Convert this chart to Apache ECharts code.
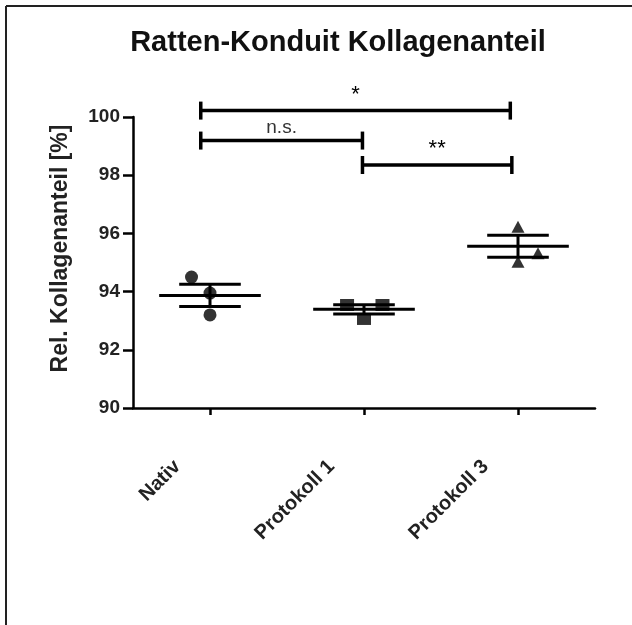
<!DOCTYPE html>
<html>
<head>
<meta charset="utf-8">
<script src="https://cdn.jsdelivr.net/npm/echarts@6/dist/echarts.min.js"></script>
<style>
html,body{margin:0;padding:0;background:#fff;}
#chart{width:632px;height:625px;}
</style>
</head>
<body>
<div id="chart"></div>
<script>
// ---- data ----
const categories = ['Nativ', 'Protokoll 1', 'Protokoll 3'];
const yTicks = [90, 92, 94, 96, 98, 100];
const nativValues = [94.5, 93.95, 93.2];
const nativJitter = [-0.12, 0, 0];
const p1Values = [93.54, 93.54, 93.06];
const p1Jitter = [-0.11, 0.12, 0];
const p3Values = [96.23, 95.03, 95.32];
const p3Jitter = [0, 0, 0.13];
const meanValues = [93.87, 93.39, 95.56];
const semValues = [0.385, 0.16, 0.38];
const bracketFrom = [0.94, 0.94, 1.99];
const bracketTo = [1.99, 2.95, 2.96];
const bracketY = [99.19, 100.22, 98.35];
const bracketText = ['n.s.', '*', '**'];

function pts(idx, vals, jit) {
  return vals.map((v, i) => [idx + 1 + jit[i], v]);
}

const chart = echarts.init(document.getElementById('chart'));
const FONT = '"Liberation Sans", Arial, sans-serif';

const meanData = categories.map((c, i) => [i + 1, meanValues[i], semValues[i]]);
const bracketData = bracketText.map((t, i) => [bracketFrom[i], bracketTo[i], bracketY[i], t]);

chart.setOption({
  backgroundColor: '#fff',
  animation: false,
  title: {
    text: 'Ratten-Konduit Kollagenanteil',
    left: 333, top: 23, textAlign: 'center',
    textStyle: {fontFamily: FONT, fontWeight: 'bold', fontSize: 29, color: '#111'}
  },
  graphic: [
    {type: 'line', shape: {x1: 6, y1: 6, x2: 632, y2: 6}, style: {stroke: '#222', lineWidth: 2}},
    {type: 'line', shape: {x1: 6, y1: 6, x2: 6, y2: 625}, style: {stroke: '#222', lineWidth: 2}}
  ],
  grid: {left: 133, right: 37, top: 117, bottom: 217},
  xAxis: [
    {
      type: 'category', data: categories, boundaryGap: true,
      axisLine: {lineStyle: {color: '#000', width: 2.5}},
      axisTick: {show: true, interval: 0, alignWithLabel: true, length: 7, lineStyle: {color: '#000', width: 2.5}},
      axisLabel: {
        interval: 0, rotate: 45, margin: 23, padding: [0, 46, 0, 0],
        fontFamily: FONT, fontWeight: 'bold', fontSize: 20, color: '#222'
      },
      splitLine: {show: false}
    },
    {
      type: 'value', min: 0.5, max: 3.5, show: false, position: 'bottom'
    }
  ],
  yAxis: {
    type: 'value', min: yTicks[0], max: yTicks[yTicks.length - 1], interval: 2,
    name: 'Rel. Kollagenanteil [%]', nameLocation: 'middle', nameGap: 61,
    nameTextStyle: {fontFamily: FONT, fontWeight: 'bold', fontSize: 23, color: '#222', padding: [0, 0, 0, 28]},
    axisLine: {show: true, lineStyle: {color: '#000', width: 2.5}},
    axisTick: {show: true, length: 10, lineStyle: {color: '#000', width: 2.5}},
    axisLabel: {margin: 13, fontFamily: FONT, fontWeight: 'bold', fontSize: 19, color: '#222'},
    splitLine: {show: false}
  },
  series: [
    {
      type: 'custom', xAxisIndex: 1, data: meanData, z: 3,
      renderItem: function (params, api) {
        const x = api.value(0), m = api.value(1), s = api.value(2);
        const c = api.coord([x, m]);
        const l = api.coord([x - 0.33, m]);
        const r = api.coord([x + 0.33, m]);
        const up = api.coord([x, m + s]);
        const dn = api.coord([x, m - s]);
        const sl = api.coord([x - 0.2, m])[0];
        const sr = api.coord([x + 0.2, m])[0];
        const st = {stroke: '#000', lineWidth: 3};
        return {type: 'group', children: [
          {type: 'line', shape: {x1: l[0], y1: c[1], x2: r[0], y2: c[1]}, style: st},
          {type: 'line', shape: {x1: sl, y1: up[1], x2: sr, y2: up[1]}, style: st},
          {type: 'line', shape: {x1: sl, y1: dn[1], x2: sr, y2: dn[1]}, style: st},
          {type: 'line', shape: {x1: c[0], y1: up[1], x2: c[0], y2: dn[1]}, style: st}
        ]};
      }
    },
    {type: 'scatter', xAxisIndex: 1, symbol: 'circle', symbolSize: 13, itemStyle: {color: '#000'}, data: pts(0, nativValues, nativJitter), z: 4},
    {type: 'scatter', xAxisIndex: 1, symbol: 'rect', symbolSize: [14, 12], itemStyle: {color: '#000'}, data: pts(1, p1Values, p1Jitter), z: 4},
    {type: 'scatter', xAxisIndex: 1, symbol: 'triangle', symbolSize: [13, 12], itemStyle: {color: '#000'}, data: pts(2, p3Values, p3Jitter), z: 4},
    {
      type: 'custom', xAxisIndex: 1, data: bracketData, z: 5,
      renderItem: function (params, api) {
        const a = api.coord([api.value(0), api.value(2)]);
        const b = api.coord([api.value(1), api.value(2)]);
        const t = bracketText[params.dataIndex];
        const st = {stroke: '#000', lineWidth: 3.5};
        const star = t !== 'n.s.';
        return {type: 'group', children: [
          {type: 'line', shape: {x1: a[0], y1: a[1], x2: b[0], y2: b[1]}, style: st},
          {type: 'line', shape: {x1: a[0], y1: a[1] - 9, x2: a[0], y2: a[1] + 9}, style: st},
          {type: 'line', shape: {x1: b[0], y1: b[1] - 9, x2: b[0], y2: b[1] + 9}, style: st},
          {type: 'text', style: {
            text: t, x: (a[0] + b[0]) / 2, y: a[1] - (star ? 5 : 3),
            align: 'center', verticalAlign: 'bottom',
            font: (star ? '22px ' : '19px ') + FONT, fill: star ? '#000' : '#333'
          }}
        ]};
      }
    }
  ]
});
</script>
</body>
</html>
